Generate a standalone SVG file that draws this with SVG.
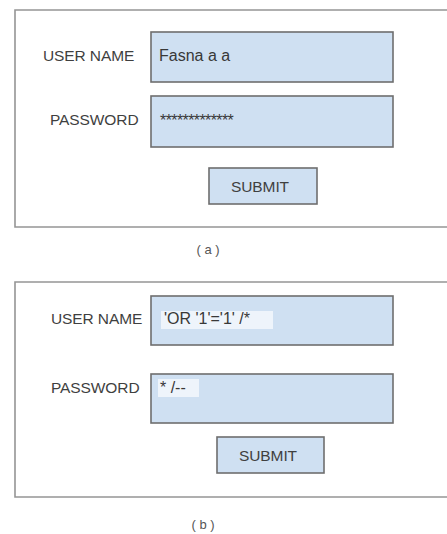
<svg xmlns="http://www.w3.org/2000/svg" width="447" height="534" viewBox="0 0 447 534">
<style>
.frame{fill:#ffffff;stroke:#959595;stroke-width:1.6}
.field{fill:#cfe0f2;stroke:#6e6e6e;stroke-width:1.6}
.lbl{font-family:"Liberation Sans",Arial,sans-serif;font-size:15.5px;fill:#3f3f3f;letter-spacing:-0.1px}
.val{font-family:"Liberation Sans",Arial,sans-serif;font-size:16px;fill:#383838}
.cap{font-family:"Liberation Sans",Arial,sans-serif;font-size:13px;fill:#555}
.hl{fill:#eef4fb}
</style>
<rect width="447" height="534" fill="#ffffff"/>
<g id="panel-a">
  <path class="frame" d="M447,10 H15 V227 H447"/>
  <g id="a-username">
    <text class="lbl" x="43" y="61">USER NAME</text>
    <rect class="field" x="151" y="32" width="242" height="50"/>
    <text class="val" x="159" y="61">Fasna a a</text>
  </g>
  <g id="a-password">
    <text class="lbl" x="50" y="125">PASSWORD</text>
    <rect class="field" x="151" y="96" width="242" height="51"/>
    <text class="val" x="160" y="126" font-size="14" letter-spacing="-0.6">*************</text>
  </g>
  <g id="a-submit">
    <rect class="field" x="209" y="168" width="108" height="36"/>
    <text class="lbl" x="260" y="192" text-anchor="middle">SUBMIT</text>
  </g>
  <text id="cap-a" class="cap" x="208" y="254" text-anchor="middle">( a )</text>
</g>
<g id="panel-b">
  <path class="frame" d="M447,282 H15 V497 H447"/>
  <g id="b-username">
    <text class="lbl" x="51" y="324">USER NAME</text>
    <rect class="field" x="151" y="296" width="242" height="49"/>
    <rect class="hl" x="161" y="311" width="112" height="18"/>
    <text class="val" x="164" y="324">'OR '1'='1' /*</text>
  </g>
  <g id="b-password">
    <text class="lbl" x="51" y="393">PASSWORD</text>
    <rect class="field" x="151" y="374" width="242" height="49"/>
    <rect class="hl" x="158" y="379" width="41" height="18"/>
    <text class="val" x="160" y="393">* /--</text>
  </g>
  <g id="b-submit">
    <rect class="field" x="217" y="437" width="107" height="36"/>
    <text class="lbl" x="268" y="461" text-anchor="middle">SUBMIT</text>
  </g>
  <text id="cap-b" class="cap" x="203" y="529" text-anchor="middle">( b )</text>
</g>
</svg>
